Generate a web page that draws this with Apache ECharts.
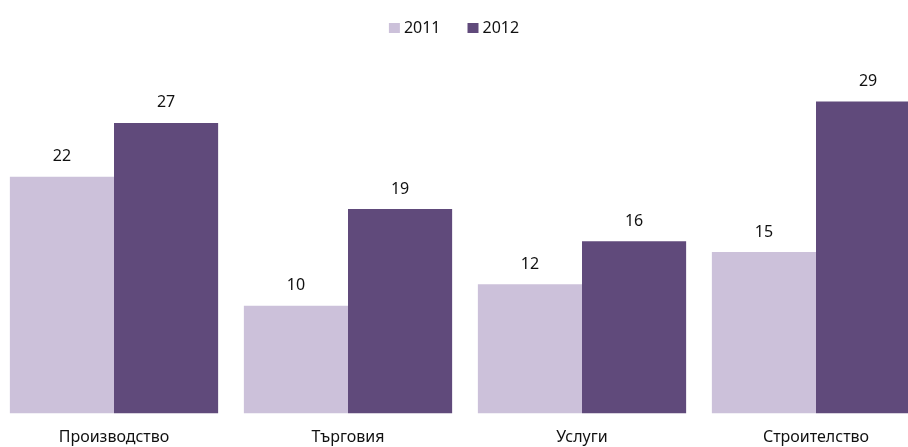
<!DOCTYPE html>
<html>
<head>
<meta charset="utf-8">
<script src="https://cdn.jsdelivr.net/npm/echarts@6/dist/echarts.min.js"></script>
<style>
  html, body { margin: 0; padding: 0; background: #fff; }
  #chart { width: 908px; height: 447px; }
</style>
</head>
<body>
<div id="chart"></div>
<script>
// Sectors and yearly values
const categories = ['Производство', 'Търговия', 'Услуги', 'Строителство'];
const seriesNames = ['2011', '2012'];
const values2011 = [22, 10, 12, 15];
const values2012 = [27, 19, 16, 29];

const colors = ['#CCC1DA', '#604A7B'];
const font = '"Noto Sans", "Open Sans", sans-serif';

const chart = echarts.init(document.getElementById('chart'), null, { renderer: 'canvas' });

const makeSeries = (name, data, color) => ({
  name: name,
  type: 'bar',
  data: data,
  barGap: '0%',
  barCategoryGap: '11%',
  itemStyle: { color: color },
  label: {
    show: true,
    position: 'top',
    distance: 12,
    color: '#111',
    fontFamily: font,
    fontSize: 16
  },
  emphasis: { disabled: true }
});

chart.setOption({
  animation: false,
  legend: {
    top: 15,
    left: 'center',
    itemWidth: 11,
    itemHeight: 10,
    itemGap: 27,
    icon: 'rect',
    textStyle: { fontFamily: font, fontSize: 16, color: '#111', padding: [0, 0, 0, -1] },
    data: seriesNames
  },
  grid: {
    left: -3,
    width: 936,
    top: 36.9,
    bottom: 33.7,
    containLabel: false,
    outerBoundsMode: 'none'
  },
  xAxis: {
    type: 'category',
    data: categories,
    axisLine: { show: false },
    axisTick: { show: false },
    axisLabel: {
      margin: 16,
      fontFamily: font,
      fontSize: 16,
      color: '#111',
      interval: 0
    }
  },
  yAxis: {
    type: 'value',
    min: 0,
    max: 35,
    show: false,
    splitLine: { show: false }
  },
  series: [
    makeSeries(seriesNames[0], values2011, colors[0]),
    makeSeries(seriesNames[1], values2012, colors[1])
  ]
});
</script>
</body>
</html>
